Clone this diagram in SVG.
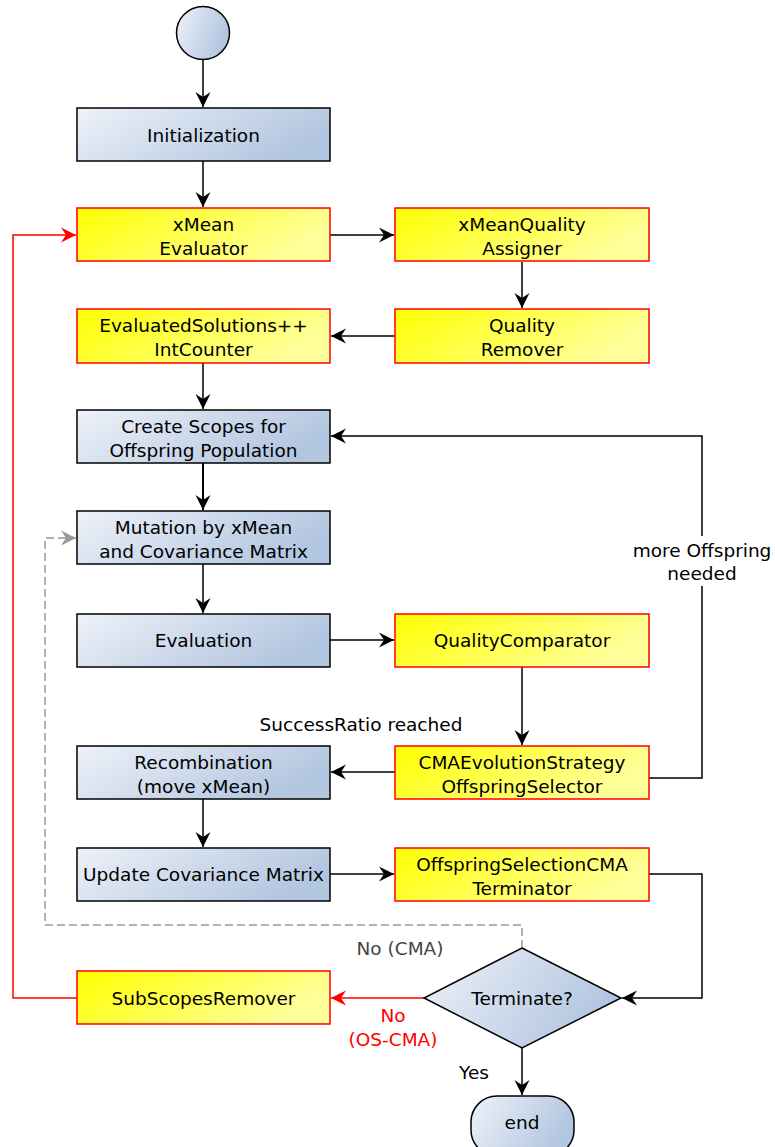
<svg xmlns="http://www.w3.org/2000/svg" width="775" height="1147" viewBox="0 0 775 1147">
  <defs>
    <linearGradient id="gBlue" x1="0" y1="0" x2="1" y2="0.35">
      <stop offset="0" stop-color="#eef2f9"/>
      <stop offset="1" stop-color="#b3c6e0"/>
    </linearGradient>
    <linearGradient id="gYellow" x1="0" y1="0" x2="1" y2="0.35">
      <stop offset="0" stop-color="#ffff00"/>
      <stop offset="1" stop-color="#ffff99"/>
    </linearGradient>
    <marker id="arrow" markerUnits="userSpaceOnUse" markerWidth="18" markerHeight="18" viewBox="-16 -9 18 18" refX="0" refY="0" orient="auto">
      <path d="M0,0 L-15,-7.5 L-10,0 L-15,7.5 Z" fill="#000"/>
    </marker>
    <marker id="arrowRed" markerUnits="userSpaceOnUse" markerWidth="18" markerHeight="18" viewBox="-16 -9 18 18" refX="0" refY="0" orient="auto">
      <path d="M0,0 L-15,-7.5 L-10,0 L-15,7.5 Z" fill="#ff0000"/>
    </marker>
    <marker id="arrowGray" markerUnits="userSpaceOnUse" markerWidth="18" markerHeight="18" viewBox="-16 -9 18 18" refX="0" refY="0" orient="auto">
      <path d="M0,0 L-15,-7.5 L-10,0 L-15,7.5 Z" fill="#999999"/>
    </marker>
  </defs>
  <style>
    text { font-family: "DejaVu Sans", "Liberation Sans", sans-serif; font-size: 18.5px; fill: #000; text-anchor: middle; }
    .blue { fill: url(#gBlue); stroke: #000; stroke-width: 1.5; }
    .yellow { fill: url(#gYellow); stroke: #ff0000; stroke-width: 1.5; }
    .edge { fill: none; stroke: #000; stroke-width: 1.5; marker-end: url(#arrow); }
    .edgeRed { fill: none; stroke: #ff0000; stroke-width: 1.5; marker-end: url(#arrowRed); }
    .edgeGray { fill: none; stroke: #999999; stroke-width: 1.5; stroke-dasharray: 8 4; marker-end: url(#arrowGray); }
    .lblRed { fill: #ff0000; }
    .lblGray { fill: #444444; }
  </style>

  <!-- connectors -->
  <g id="connectors">
    <path class="edge" d="M203,60 V107"/>
    <path class="edge" d="M203,161 V207"/>
    <path class="edge" d="M330,235 H394"/>
    <path class="edge" d="M522,262 V308"/>
    <path class="edge" d="M395,336 H331"/>
    <path class="edge" d="M203,363 V409"/>
    <path class="edge" d="M203,463 V510" style="stroke-width:2"/>
    <path class="edge" d="M203,564 V613"/>
    <path class="edge" d="M330,640 H394"/>
    <path class="edge" d="M522,667 V745"/>
    <path class="edge" d="M649,778 H702 V436 H331"/>
    <path class="edge" d="M395,772 H331"/>
    <path class="edge" d="M203,799 V847"/>
    <path class="edge" d="M330,874 H394"/>
    <path class="edge" d="M649,874 H702 V998 H622"/>
    <path class="edgeRed" d="M424,998 H331"/>
    <path class="edgeRed" d="M77,998 H13 V235 H76"/>
    <path class="edgeGray" d="M522,948 V925 H45 V538 H76"/>
    <path class="edge" d="M522,1048 V1095"/>
    <!-- connector labels -->
    <rect x="628" y="536" width="148" height="50" fill="#fff"/>
    <text x="702" y="557">more Offspring</text>
    <text x="702" y="580">needed</text>
    <text x="361" y="731">SuccessRatio reached</text>
    <text class="lblGray" x="400" y="955">No (CMA)</text>
    <text class="lblRed" x="393" y="1022">No</text>
    <text class="lblRed" x="393" y="1046">(OS-CMA)</text>
    <text x="474" y="1079">Yes</text>
  </g>

  <!-- nodes -->
  <g id="start">
    <circle cx="203" cy="33" r="26.5" class="blue"/>
  </g>
  <g id="initialization">
    <rect x="77" y="108" width="253" height="53" class="blue"/>
    <text x="203.5" y="141.5">Initialization</text>
  </g>
  <g id="xmean-evaluator">
    <rect x="77" y="208" width="253" height="53" class="yellow"/>
    <text x="203.5" y="231">xMean</text>
    <text x="203.5" y="255">Evaluator</text>
  </g>
  <g id="xmean-quality-assigner">
    <rect x="395" y="208" width="254" height="53" class="yellow"/>
    <text x="522" y="231">xMeanQuality</text>
    <text x="522" y="255">Assigner</text>
  </g>
  <g id="quality-remover">
    <rect x="395" y="309" width="254" height="54" class="yellow"/>
    <text x="522" y="332">Quality</text>
    <text x="522" y="356">Remover</text>
  </g>
  <g id="evaluated-solutions-counter">
    <rect x="77" y="309" width="253" height="54" class="yellow"/>
    <text x="203.5" y="332">EvaluatedSolutions++</text>
    <text x="203.5" y="356">IntCounter</text>
  </g>
  <g id="create-scopes">
    <rect x="77" y="410" width="253" height="53" class="blue"/>
    <text x="203.5" y="433">Create Scopes for</text>
    <text x="203.5" y="457">Offspring Population</text>
  </g>
  <g id="mutation">
    <rect x="77" y="511" width="253" height="53" class="blue"/>
    <text x="203.5" y="534">Mutation by xMean</text>
    <text x="203.5" y="558">and Covariance Matrix</text>
  </g>
  <g id="evaluation">
    <rect x="77" y="614" width="253" height="53" class="blue"/>
    <text x="203.5" y="647">Evaluation</text>
  </g>
  <g id="quality-comparator">
    <rect x="395" y="614" width="254" height="53" class="yellow"/>
    <text x="522" y="647">QualityComparator</text>
  </g>
  <g id="offspring-selector">
    <rect x="395" y="746" width="254" height="53" class="yellow"/>
    <text x="522" y="769">CMAEvolutionStrategy</text>
    <text x="522" y="793">OffspringSelector</text>
  </g>
  <g id="recombination">
    <rect x="77" y="746" width="253" height="53" class="blue"/>
    <text x="203.5" y="769">Recombination</text>
    <text x="203.5" y="793">(move xMean)</text>
  </g>
  <g id="update-covariance">
    <rect x="77" y="848" width="253" height="53" class="blue"/>
    <text x="203.5" y="881">Update Covariance Matrix</text>
  </g>
  <g id="terminator">
    <rect x="395" y="848" width="254" height="53" class="yellow"/>
    <text x="522" y="871">OffspringSelectionCMA</text>
    <text x="522" y="895">Terminator</text>
  </g>
  <g id="terminate-decision">
    <path d="M522,948 L621,998 L522,1048 L424,998 Z" class="blue"/>
    <text x="522" y="1005">Terminate?</text>
  </g>
  <g id="subscopes-remover">
    <rect x="77" y="971" width="253" height="53" class="yellow"/>
    <text x="203.5" y="1005">SubScopesRemover</text>
  </g>
  <g id="end">
    <rect x="471" y="1096" width="103" height="60" rx="26" ry="26" class="blue"/>
    <text x="522" y="1129">end</text>
  </g>
</svg>
